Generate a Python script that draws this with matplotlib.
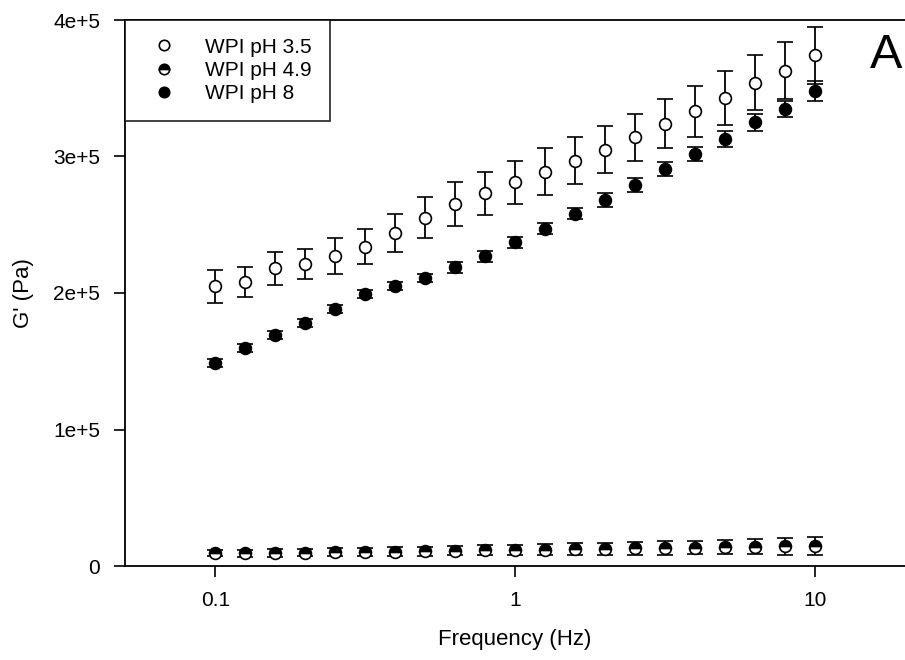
import numpy as np
import matplotlib
matplotlib.use("Agg")
import matplotlib.pyplot as plt
from matplotlib.lines import Line2D
from matplotlib.ticker import FixedLocator, FixedFormatter, NullLocator

plt.rcParams['font.family'] = ['Liberation Sans', 'DejaVu Sans']

# Frequency (Hz)
freq = [0.1, 0.126, 0.158, 0.2, 0.251, 0.316, 0.398, 0.501, 0.631, 0.794, 1.0,
        1.26, 1.58, 2.0, 2.51, 3.16, 3.98, 5.01, 6.31, 7.94, 10.0]

# G' (Pa) means and error bars
g_ph35 = [2.05e5, 2.08e5, 2.18e5, 2.21e5, 2.27e5, 2.34e5, 2.44e5, 2.55e5, 2.65e5, 2.73e5, 2.81e5,
          2.89e5, 2.97e5, 3.05e5, 3.14e5, 3.24e5, 3.33e5, 3.43e5, 3.54e5, 3.63e5, 3.74e5]
e_ph35 = [1.2e4, 1.1e4, 1.2e4, 1.1e4, 1.3e4, 1.3e4, 1.4e4, 1.5e4, 1.6e4, 1.6e4, 1.6e4,
          1.7e4, 1.7e4, 1.7e4, 1.7e4, 1.8e4, 1.9e4, 2.0e4, 2.0e4, 2.1e4, 2.1e4]

g_ph49 = [9.5e3, 9.3e3, 9.6e3, 9.8e3, 1.00e4, 1.03e4, 1.06e4, 1.09e4, 1.12e4, 1.15e4, 1.18e4,
          1.20e4, 1.23e4, 1.26e4, 1.29e4, 1.32e4, 1.35e4, 1.38e4, 1.41e4, 1.44e4, 1.48e4]
e_ph49 = [2.5e3, 2.6e3, 2.7e3, 2.8e3, 3.0e3, 3.0e3, 3.2e3, 3.3e3, 3.5e3, 3.7e3, 3.8e3,
          4.0e3, 4.2e3, 4.4e3, 4.6e3, 4.8e3, 5.0e3, 5.3e3, 5.6e3, 6.0e3, 6.4e3]

g_ph8 = [1.49e5, 1.60e5, 1.69e5, 1.78e5, 1.88e5, 1.99e5, 2.05e5, 2.11e5, 2.19e5, 2.27e5, 2.37e5,
         2.47e5, 2.58e5, 2.68e5, 2.79e5, 2.91e5, 3.02e5, 3.13e5, 3.25e5, 3.35e5, 3.48e5]
e_ph8 = [3e3, 3e3, 3e3, 3e3, 3e3, 3e3, 3e3, 3e3, 4e3, 4e3, 4e3,
         4e3, 4e3, 5e3, 5e3, 5e3, 5e3, 6e3, 6e3, 6e3, 7e3]

labels = ["WPI pH 3.5", "WPI pH 4.9", "WPI pH 8"]
yticks = [0, 1e5, 2e5, 3e5, 4e5]
ytick_labels = ["0", "1e+5", "2e+5", "3e+5", "4e+5"]
xticks = [0.1, 1, 10]
xtick_labels = ["0.1", "1", "10"]

fig = plt.figure(figsize=(9.05, 6.6), dpi=100)
ax = fig.add_axes([125 / 905, 1 - 566 / 660, 780 / 905, 546 / 660])

common = dict(linestyle='none', marker='o', markersize=8.5, ecolor='black',
              elinewidth=1.3, capsize=5.5, capthick=1.3, markeredgecolor='black',
              markeredgewidth=1.2)

ax.errorbar(freq, g_ph35, yerr=e_ph35, markerfacecolor='white', **common)
ax.errorbar(freq, g_ph49, yerr=e_ph49, markerfacecolor='black', fillstyle='top',
            markerfacecoloralt='white', **common)
ax.errorbar(freq, g_ph8, yerr=e_ph8, markerfacecolor='black', **common)

ax.set_xscale('log')
ax.set_xlim(0.05, 20)
ax.set_ylim(0, 4e5)

ax.xaxis.set_major_locator(FixedLocator(xticks))
ax.xaxis.set_major_formatter(FixedFormatter(xtick_labels))
ax.xaxis.set_minor_locator(NullLocator())
ax.yaxis.set_major_locator(FixedLocator(yticks))
ax.yaxis.set_major_formatter(FixedFormatter(ytick_labels))

ax.tick_params(direction='out', length=8, width=1.2, labelsize=15, pad=10)
ax.spines['right'].set_visible(False)
for s in ['left', 'bottom', 'top']:
    ax.spines[s].set_linewidth(1.3)

ax.set_xlabel("Frequency (Hz)", fontsize=16, labelpad=14)
ax.set_ylabel("G' (Pa)", fontsize=16, labelpad=14)

handles = [
    Line2D([], [], linestyle='none', marker='o', markersize=7.5, markeredgecolor='black',
           markerfacecolor='white', markeredgewidth=1.2),
    Line2D([], [], linestyle='none', marker='o', markersize=7.5, markeredgecolor='black',
           markerfacecolor='black', fillstyle='top', markerfacecoloralt='white',
           markeredgewidth=1.2),
    Line2D([], [], linestyle='none', marker='o', markersize=7.5, markeredgecolor='black',
           markerfacecolor='black', markeredgewidth=1.2),
]
leg = ax.legend(handles, labels, loc='upper left', bbox_to_anchor=(0, 1), borderaxespad=0,
                fontsize=15, frameon=True, fancybox=False, edgecolor='black',
                handletextpad=1.0, labelspacing=0.2, borderpad=0.85, handlelength=2.0)
leg.get_frame().set_linewidth(1.3)

ax.text(0.997, 0.935, "A", transform=ax.transAxes, fontsize=35, ha='right', va='center')

fig.savefig("out.png", dpi=100)
